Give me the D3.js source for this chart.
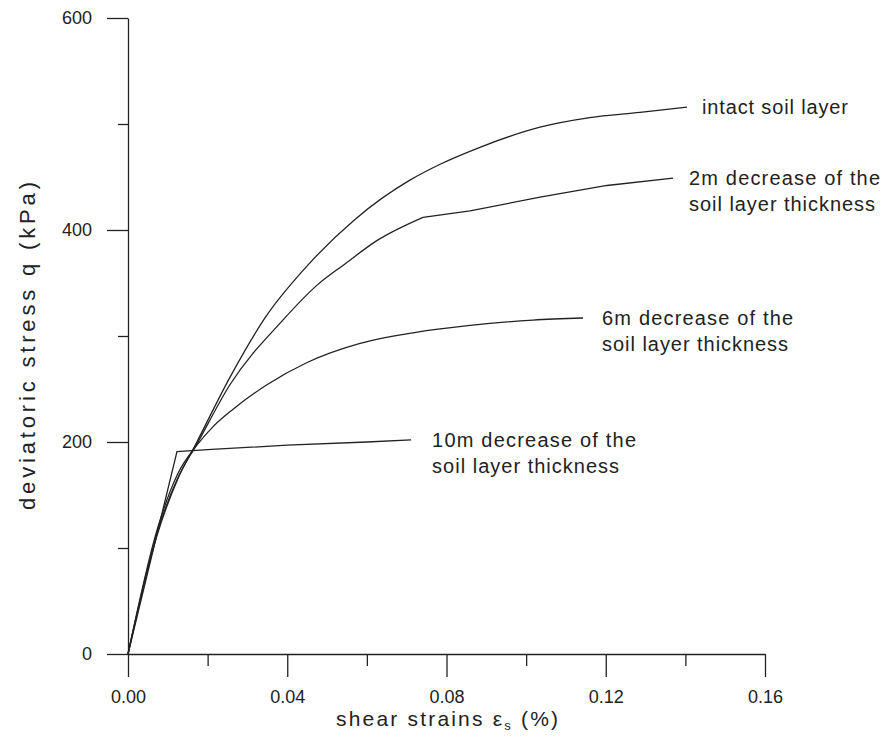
<!DOCTYPE html>
<html>
<head>
<meta charset="utf-8">
<script src="https://cdn.jsdelivr.net/npm/d3@7/dist/d3.min.js"></script>
<style>
  html, body { margin: 0; padding: 0; background: #fff; }
  svg { display: block; font-family: "Liberation Sans", Arial, sans-serif; }
</style>
</head>
<body>
<svg id="chart" width="886" height="746"></svg>
<script>
// Stress–strain curves: shear strain (%) vs deviatoric stress q (kPa)
const intact = [
  [0, 0], [0.0073, 112], [0.0125, 165], [0.0173, 200], [0.0256, 261],
  [0.0344, 317], [0.0457, 369], [0.0570, 410], [0.0708, 447], [0.0784, 462],
  [0.0884, 478], [0.1035, 497], [0.1160, 506], [0.1286, 511], [0.1404, 516]
];
const dec2m = [
  [0, 0], [0.0073, 114], [0.0125, 166], [0.0173, 198], [0.0256, 254],
  [0.0389, 315], [0.0475, 348], [0.0545, 368], [0.0625, 390], [0.0741, 412],
  [0.0859, 418], [0.1035, 431], [0.1203, 442], [0.1369, 449]
];
const dec6m = [
  [0, 0], [0.0073, 117], [0.0125, 170], [0.0173, 197], [0.0215, 215],
  [0.0264, 231], [0.0349, 254], [0.0450, 275], [0.0583, 293], [0.0716, 303],
  [0.0859, 310], [0.1017, 315], [0.1143, 317]
];
const dec10m = [
  [0, 0], [0.0123, 191], [0.0210, 193], [0.0400, 197], [0.0600, 200], [0.0711, 202]
];

const seriesNames = ["intact soil layer", "2m decrease of the", "6m decrease of the", "10m decrease of the"];
const secondLines = ["", "soil layer thickness", "soil layer thickness", "soil layer thickness"];

const xMajorTicks = [0, 0.04, 0.08, 0.12, 0.16];
const xMinorTicks = [0.02, 0.06, 0.10, 0.14];
const yMajorTicks = [0, 200, 400, 600];
const yMinorTicks = [100, 300, 500];

const svg = d3.select("#chart");
const ink = "#222";

const x = d3.scaleLinear().domain([0, 0.16]).range([128, 765]);
const y = d3.scaleLinear().domain([0, 600]).range([654, 18]);

// minor ticks first, no labels
svg.append("g")
  .attr("transform", "translate(0,654)")
  .call(d3.axisBottom(x).tickValues(xMinorTicks).tickSize(12).tickSizeOuter(0).tickFormat(""))
  .call(g => g.select(".domain").remove());
svg.append("g")
  .attr("transform", "translate(128,0)")
  .call(d3.axisLeft(y).tickValues(yMinorTicks).tickSize(10).tickSizeOuter(0).tickFormat(""))
  .call(g => g.select(".domain").remove());

// major axes
const xAxis = svg.append("g")
  .attr("transform", "translate(0,654)")
  .call(d3.axisBottom(x).tickValues(xMajorTicks).tickSize(23).tickSizeOuter(0)
    .tickPadding(13).tickFormat(d3.format(".2f")));
const yAxis = svg.append("g")
  .attr("transform", "translate(128,0)")
  .call(d3.axisLeft(y).tickValues(yMajorTicks).tickSize(21).tickSizeOuter(0)
    .tickPadding(15).tickFormat(d3.format("d")));

svg.selectAll(".tick line, .domain").attr("stroke", ink).attr("stroke-width", 1.3);
[xAxis, yAxis].forEach(a => a.selectAll("text")
  .attr("font-size", 18).attr("fill", ink)
  .attr("font-family", "'Liberation Sans', Arial, sans-serif"));

// curves; the 2m curve bends sharply where it meets its plateau
const smooth = d3.line().x(d => x(d[0])).y(d => y(d[1])).curve(d3.curveMonotoneX);
const straight = d3.line().x(d => x(d[0])).y(d => y(d[1]));
const kink2m = 9;
const paths = [
  smooth(intact),
  smooth(dec2m.slice(0, kink2m + 1)),
  straight(dec2m.slice(kink2m)),
  smooth(dec6m),
  straight(dec10m)
];
svg.append("g").selectAll("path").data(paths).join("path")
  .attr("d", d => d)
  .attr("fill", "none")
  .attr("stroke", ink)
  .attr("stroke-width", 1.3)
  .attr("stroke-linejoin", "round");

// curve labels placed just past each curve's end
const curveData = [intact, dec2m, dec6m, dec10m];
const labelOffsets = [15, 16, 19, 21];
const labelWidths = [[146], [191, 186], [191, 186], [204, 187]];
const labels = svg.append("g").attr("fill", ink).attr("font-size", 20);
curveData.forEach((c, i) => {
  const last = c[c.length - 1];
  const lx = x(last[0]) + labelOffsets[i];
  const ly = y(last[1]);
  labels.append("text").attr("x", lx).attr("y", ly + 7)
    .attr("textLength", labelWidths[i][0]).attr("lengthAdjust", "spacing")
    .text(seriesNames[i]);
  if (secondLines[i]) {
    labels.append("text").attr("x", lx).attr("y", ly + 33)
      .attr("textLength", labelWidths[i][1]).attr("lengthAdjust", "spacing")
      .text(secondLines[i]);
  }
});

// axis titles
const xt = svg.append("text")
  .attr("x", 336).attr("y", 726)
  .attr("font-size", 21).attr("fill", ink)
  .attr("textLength", 222).attr("lengthAdjust", "spacing");
xt.append("tspan").text("shear strains ε");
xt.append("tspan").attr("font-size", 13).attr("dy", 4).text("s");
xt.append("tspan").attr("dy", -4).text(" (%)");

svg.append("text")
  .attr("transform", "translate(35,346) rotate(-90)")
  .attr("text-anchor", "middle")
  .attr("font-size", 22).attr("fill", ink)
  .attr("textLength", 328).attr("lengthAdjust", "spacing")
  .text("deviatoric stress q (kPa)");
</script>
</body>
</html>
